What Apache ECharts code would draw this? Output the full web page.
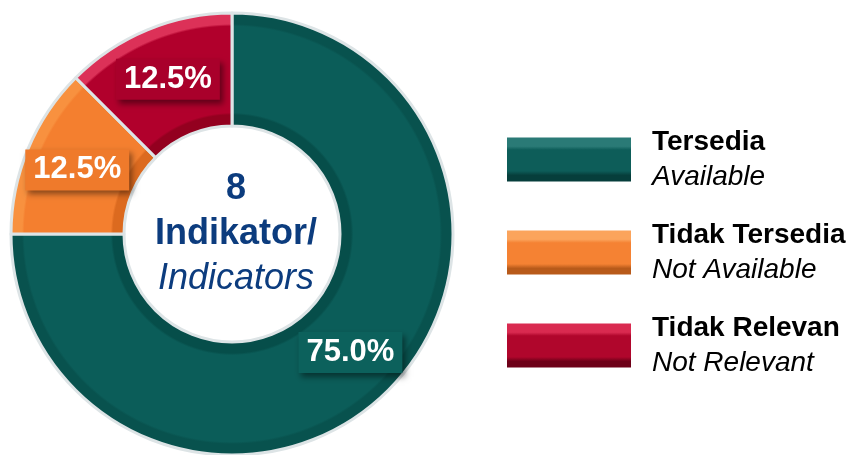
<!DOCTYPE html>
<html>
<head>
<meta charset="utf-8">
<style>
  html, body { margin: 0; padding: 0; background: #ffffff; }
  #chart { width: 856px; height: 455px; }
</style>
<script src="https://cdn.jsdelivr.net/npm/echarts@6/dist/echarts.min.js"></script>
</head>
<body>
<div id="chart"></div>
<script>
// Indicator availability: counts per status
const categories = ['Tersedia', 'Tidak Tersedia', 'Tidak Relevan'];
const categoriesEn = ['Available', 'Not Available', 'Not Relevant'];
const counts = [6, 1, 1];

// Palette per status: [outer band, base, inner band, label box]
const palette = [
  ['#08524e', '#0b5d59', '#064e4a', '#0c615c'],
  ['#f8913f', '#f47f2f', '#dc6a1f', '#ef7a2b'],
  ['#dc3158', '#b1002c', '#93001f', '#a9002b']
];
// Legend bar shading: [top highlight, base, bottom shade]
const legendShade = [
  ['#2a7a76', '#0d5d59', '#063e3b'],
  ['#fba45c', '#f58233', '#b85a1a'],
  ['#d92a50', '#b0062c', '#6e0018']
];

const FONT = '"Liberation Sans", Arial, Helvetica, sans-serif';
const CX = 232, CY = 234, R_IN = 108, R_OUT = 221;

const total = counts.reduce((a, b) => a + b, 0);

function ringGradient(p) {
  const f = R_IN / R_OUT;
  return new echarts.graphic.RadialGradient(CX, CY, R_OUT, [
    { offset: f, color: p[2] },
    { offset: f + 0.05, color: p[2] },
    { offset: f + 0.06, color: p[1] },
    { offset: 0.94, color: p[1] },
    { offset: 0.95, color: p[0] },
    { offset: 1, color: p[0] }
  ], true);
}

function barGradient(p) {
  return new echarts.graphic.LinearGradient(0, 0, 0, 1, [
    { offset: 0, color: p[0] },
    { offset: 0.2, color: p[0] },
    { offset: 0.28, color: p[1] },
    { offset: 0.76, color: p[1] },
    { offset: 0.86, color: p[2] },
    { offset: 1, color: p[2] }
  ]);
}

const pieData = categories.map((name, i) => ({
  name: name,
  value: counts[i],
  itemStyle: { color: ringGradient(palette[i]) },
  label: { backgroundColor: palette[i][3] }
}));

const legendData = categories.map((name, i) => ({
  name: name,
  itemStyle: { color: barGradient(legendShade[i]), borderWidth: 0 }
}));

const chart = echarts.init(document.getElementById('chart'), null, { renderer: 'canvas' });

chart.setOption({
  animation: false,
  backgroundColor: '#ffffff',
  title: {
    text: '{n|' + total + '}\n{b|Indikator/}\n{i|Indicators}',
    left: CX - 1,
    top: CY - 5,
    textAlign: 'center',
    textVerticalAlign: 'middle',
    textStyle: {
      fontWeight: 'normal',
      rich: {
        n: { fontFamily: FONT, fontSize: 36, fontWeight: 'bold', color: '#0c3c7e', lineHeight: 45, align: 'center' },
        b: { fontFamily: FONT, fontSize: 36, fontWeight: 'bold', color: '#0c3c7e', lineHeight: 45, align: 'center' },
        i: { fontFamily: FONT, fontSize: 36, fontWeight: 'normal', fontStyle: 'italic', color: '#0c3c7e', lineHeight: 45, align: 'center' }
      }
    }
  },
  legend: {
    orient: 'vertical',
    left: 502,
    top: 123,
    itemWidth: 124,
    itemHeight: 44,
    itemGap: 30,
    icon: 'rect',
    selectedMode: false,
    data: legendData,
    formatter: function (name) {
      const i = categories.indexOf(name);
      return '{b|' + name + '}\n{i|' + categoriesEn[i] + '}';
    },
    textStyle: {
      padding: [0, 0, 0, 16],
      rich: {
        b: { fontFamily: FONT, fontSize: 28, fontWeight: 'bold', color: '#000000', lineHeight: 35 },
        i: { fontFamily: FONT, fontSize: 28, fontStyle: 'italic', color: '#000000', lineHeight: 35 }
      }
    }
  },
  series: [
    {
      type: 'pie',
      center: [CX, CY],
      radius: [R_IN, R_OUT],
      startAngle: 90,
      clockwise: true,
      silent: true,
      itemStyle: { borderColor: '#dde4e6', borderWidth: 3 },
      label: {
        show: true,
        position: 'inside',
        formatter: function (p) { return p.percent.toFixed(1) + '%'; },
        fontFamily: FONT,
        fontSize: 31,
        fontWeight: 'bold',
        color: '#ffffff',
        padding: [6, 8, 4, 8],
        shadowBlur: 6,
        shadowColor: 'rgba(0,0,0,0.45)',
        shadowOffsetX: 3,
        shadowOffsetY: 4
      },
      labelLine: { show: false },
      data: pieData
    }
  ]
});
</script>
</body>
</html>
